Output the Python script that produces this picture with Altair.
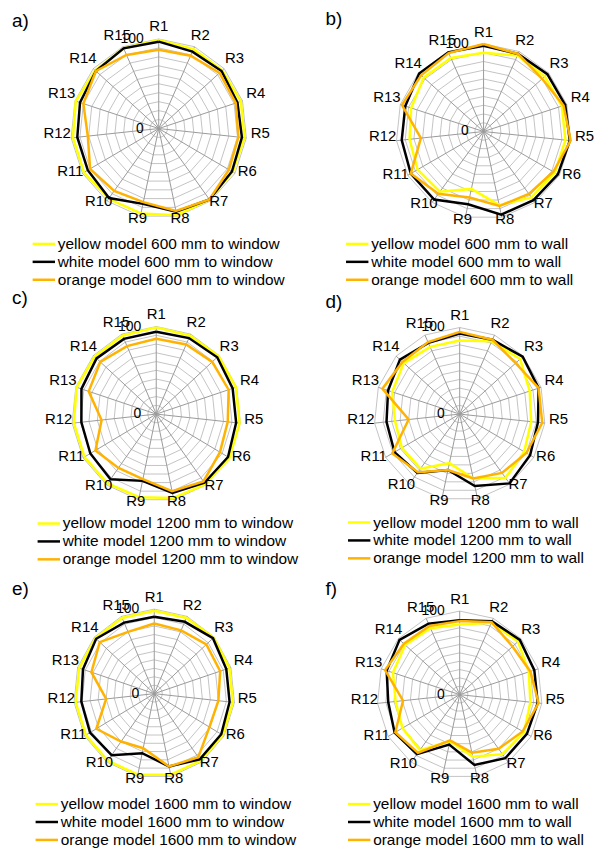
import altair as alt
import pandas as pd

# ---------------- data ----------------
REGIONS = ["R1", "R2", "R3", "R4", "R5", "R6", "R7", "R8",
           "R9", "R10", "R11", "R12", "R13", "R14", "R15"]
TICK_LABELS = [0, 100]
GRID_LEVELS = [10, 20, 30, 40, 50, 60, 70, 80, 90, 100]
MODELS = ["yellow", "white", "orange"]
MODEL_COLORS = ["#FFFF00", "#000000", "#FFB300"]
PANEL_LETTERS = ["a)", "b)", "c)", "d)", "e)", "f)"]
DISTANCES = ["600", "600", "1200", "1200", "1600", "1600"]
TARGETS = ["window", "wall", "window", "wall", "window", "wall"]

a_yellow = [99, 97, 97, 98, 98, 97, 98, 99, 97, 97, 98, 98, 99, 97, 98]
a_white = [97, 94, 96, 94, 95, 96, 98, 95, 86, 96, 93, 93, 94, 96, 98]
a_orange = [88, 89, 93, 92, 91, 92, 98, 94, 84, 86, 90, 81, 90, 96, 90]

b_yellow = [90, 95, 94, 94, 94, 94, 93, 86, 67, 85, 87, 85, 87, 92, 92]
b_white = [98, 97, 98, 98, 99, 98, 97, 97, 85, 96, 96, 94, 94, 99, 99]
b_orange = [100, 97, 90, 96, 100, 92, 88, 87, 77, 88, 96, 72, 98, 96, 98]

c_yellow = [99, 98, 99, 99, 99, 100, 99, 98, 97, 98, 98, 98, 99, 98, 98]
c_white = [94, 95, 97, 95, 95, 98, 97, 92, 78, 92, 90, 89, 93, 95, 94]
c_orange = [86, 87, 89, 90, 85, 87, 95, 90, 76, 76, 83, 65, 84, 89, 85]

d_yellow = [85, 92, 95, 86, 84, 87, 91, 76, 58, 78, 78, 76, 83, 88, 85]
d_white = [93, 94, 99, 97, 92, 95, 99, 85, 66, 84, 88, 86, 88, 94, 90]
d_orange = [95, 94, 88, 97, 97, 90, 84, 76, 66, 83, 91, 60, 95, 90, 91]

e_yellow = [98, 98, 99, 98, 98, 98, 98, 98, 98, 98, 98, 98, 98, 98, 98]
e_white = [91, 93, 98, 94, 94, 96, 96, 88, 72, 90, 92, 91, 93, 97, 92]
e_orange = [83, 82, 87, 86, 80, 79, 93, 88, 66, 70, 83, 60, 82, 91, 80]

f_yellow = [84, 94, 95, 88, 86, 90, 88, 76, 57, 82, 80, 78, 85, 89, 87]
f_white = [89, 96, 98, 95, 95, 94, 94, 86, 61, 88, 91, 87, 93, 98, 93]
f_orange = [88, 95, 86, 90, 96, 88, 80, 71, 56, 86, 90, 69, 95, 91, 90]

SERIES = [
    [a_yellow, a_white, a_orange],
    [b_yellow, b_white, b_orange],
    [c_yellow, c_white, c_orange],
    [d_yellow, d_white, d_orange],
    [e_yellow, e_white, e_orange],
    [f_yellow, f_white, f_orange],
]

# ---------------- layout ----------------
COL_W = [300, 292]
ROW_H = [282, 283, 275]
CENTERS = [(151.5, 119), (178, 122), (149, 124), (154, 124), (147, 122), (154, 123)]
RADII = [(88.5, 90), (88, 88), (85, 88), (86, 87), (81, 85), (83, 84)]
LEGEND_POS = [(27, 226), (42, 226), (32, 225), (44, 224), (30, 224), (44, 224)]
LETTER_POS = [(4, 11), (19, 9), (4, 7), (19, 11), (4, 17), (19, 17)]
FONT = "Liberation Sans"
N = len(REGIONS)
ANG = f"2*PI*datum.idx/{N}"


def panel(i):
    W = COL_W[i % 2]
    H = ROW_H[i // 2]
    cx, cy = CENTERS[i]
    rx, ry = RADII[i]
    xs = alt.Scale(domain=[-cx * 100 / rx, (W - cx) * 100 / rx], nice=False, zero=False)
    ys = alt.Scale(domain=[-(H - cy) * 100 / ry, cy * 100 / ry], nice=False, zero=False)
    X = alt.X("px:Q", scale=xs, axis=None)
    Y = alt.Y("py:Q", scale=ys, axis=None)

    names = [f"{m} model {DISTANCES[i]} mm to {TARGETS[i]}" for m in MODELS]

    ring_df = pd.DataFrame([{"level": lv, "idx": k} for lv in GRID_LEVELS for k in range(N + 1)])
    rings = alt.Chart(ring_df).transform_calculate(
        px=f"datum.level*sin({ANG})", py=f"datum.level*cos({ANG})"
    ).mark_line(color="#c4c4c4", strokeWidth=1).encode(
        x=X, y=Y, detail="level:N", order="idx:Q"
    )

    spoke_df = pd.DataFrame({"idx": list(range(N)), "top": [GRID_LEVELS[-1]] * N})
    spokes = alt.Chart(spoke_df).transform_calculate(
        px="0", py="0", sx=f"datum.top*sin({ANG})", sy=f"datum.top*cos({ANG})"
    ).mark_rule(color="#9a9a9a", strokeWidth=1).encode(
        x=X, y=Y, x2="sx:Q", y2="sy:Q"
    )

    rows = []
    for name, vals in zip(names, SERIES[i]):
        for k, v in enumerate(list(vals) + list(vals[:1])):
            rows.append({"series": name, "idx": k, "value": v})
    sdf = pd.DataFrame(rows)
    lx, ly = LEGEND_POS[i]
    color = alt.Color(
        "series:N",
        scale=alt.Scale(domain=names, range=MODEL_COLORS),
        legend=alt.Legend(
            orient="none", legendX=lx, legendY=ly, title=None,
            symbolType="M-1.5,0H1.5", symbolSize=225, symbolStrokeWidth=2.5,
            labelFontSize=15.5, labelFont=FONT, labelColor="#000000",
            labelOffset=5, rowPadding=0, padding=0, labelLimit=0,
            direction="vertical",
        ),
    )
    lines = []
    for name in names:
        lines.append(
            alt.Chart(sdf).transform_filter(alt.datum.series == name).transform_calculate(
                px=f"datum.value*sin({ANG})", py=f"datum.value*cos({ANG})"
            ).mark_line(strokeWidth=2.5, strokeJoin="miter").encode(
                x=X, y=Y, color=color, order="idx:Q"
            )
        )

    lab_df = pd.DataFrame({"label": REGIONS, "idx": list(range(N))})
    labels = alt.Chart(lab_df).transform_calculate(
        px=f"116*sin({ANG})", py=f"108*cos({ANG})+6"
    ).mark_text(fontSize=15, font=FONT, color="#000000", align="center", baseline="middle").encode(
        x=X, y=Y, text="label:N"
    )

    tick_df = pd.DataFrame({"v": TICK_LABELS})
    ticks = alt.Chart(tick_df).transform_calculate(
        px="0", py="datum.v", t="''+datum.v"
    ).mark_text(fontSize=14, font=FONT, color="#000000", align="right", baseline="middle", dx=-15).encode(
        x=X, y=Y, text="t:N"
    )

    lt_df = pd.DataFrame({"t": [PANEL_LETTERS[i]]})
    ltx, lty = LETTER_POS[i]
    letter = alt.Chart(lt_df).mark_text(
        fontSize=19, font=FONT, color="#000000", align="left", baseline="middle"
    ).encode(x=alt.value(ltx), y=alt.value(lty), text="t:N")

    return alt.layer(rings, spokes, *lines, labels, ticks, letter).properties(width=W, height=H)


chart = (
    alt.concat(*[panel(i) for i in range(6)], columns=2, spacing=0, bounds="flush")
    .resolve_scale(color="independent", x="independent", y="independent")
    .resolve_legend(color="independent")
    .properties(padding=0, background="white")
    .configure_view(stroke=None)
)

chart.save("out.html", embed_options={"renderer": "svg", "actions": False})
